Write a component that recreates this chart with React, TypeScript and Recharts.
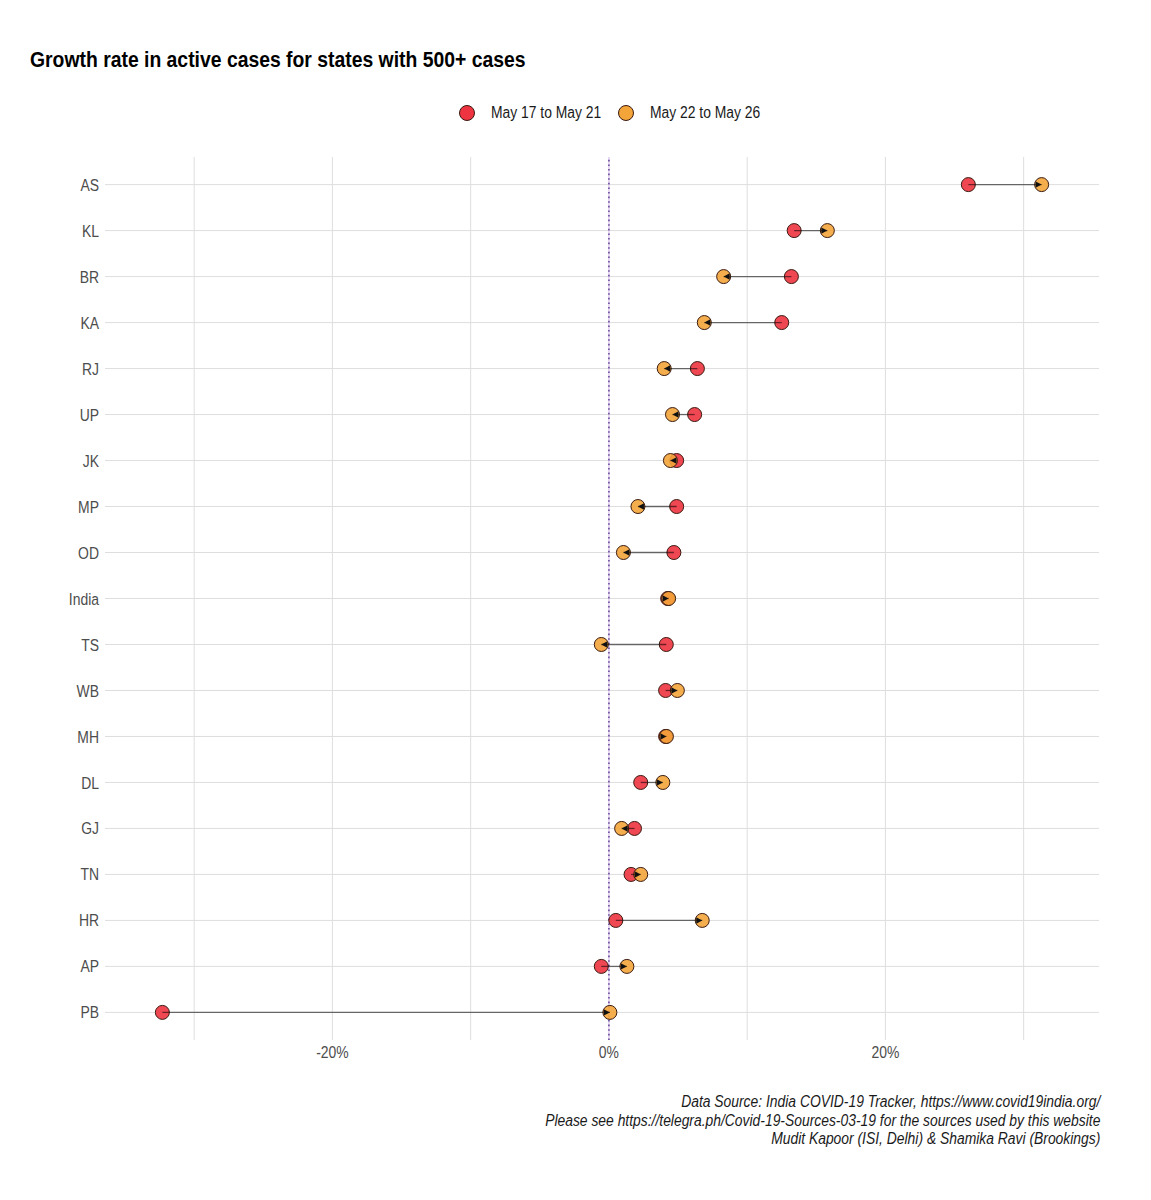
import React from "react";
import {
  CartesianGrid,
  ReferenceLine,
  Scatter,
  ScatterChart,
  XAxis,
  YAxis,
} from "recharts";

const states = [
  "AS", "KL", "BR", "KA", "RJ", "UP", "JK", "MP", "OD", "India",
  "TS", "WB", "MH", "DL", "GJ", "TN", "HR", "AP", "PB",
];

// growth rate in active cases, %
const may17to21 = [
  26.0, 13.4, 13.2, 12.5, 6.4, 6.2, 4.9, 4.9, 4.7, 4.25,
  4.15, 4.1, 4.1, 2.3, 1.85, 1.6, 0.5, -0.55, -32.3,
];
const may22to26 = [
  31.3, 15.8, 8.3, 6.9, 4.0, 4.6, 4.45, 2.1, 1.05, 4.32,
  -0.55, 4.95, 4.16, 3.9, 0.92, 2.3, 6.75, 1.3, 0.07,
];

const seriesNames = ["May 17 to May 21", "May 22 to May 26"];
const seriesColors = ["#EE3440", "#F4A53A"];

const xGrid = [-30, -20, -10, 0, 10, 20, 30];
const xTicks = [-20, 0, 20];

const captionLines = [
  "Data Source: India COVID-19 Tracker, https://www.covid19india.org/",
  "Please see https://telegra.ph/Covid-19-Sources-03-19 for the sources used by this website",
  "Mudit Kapoor (ISI, Delhi) & Shamika Ravi (Brookings)",
];

// no Arial Narrow here, so squeeze Liberation Sans instead
const FONT = "'Liberation Sans', Arial, sans-serif";
const NARROW = 0.82;

const firstPts = states.map((s, i) => ({ x: may17to21[i], y: i + 1 }));
const secondPts = states.map((s, i) => ({ x: may22to26[i], y: i + 1 }));
const arrowPts = states.map((s, i) => ({
  x: may22to26[i],
  y: i + 1,
  dir: may22to26[i] >= may17to21[i] ? 1 : -1,
}));

const dot = (color: string) => (props: any) => (
  <circle
    cx={props.cx}
    cy={props.cy}
    r={7}
    fill={color}
    fillOpacity={0.9}
    stroke="#3a1a10"
    strokeWidth={1}
  />
);

const arrowHead = (props: any) => {
  const { cx, cy, payload } = props;
  const d = payload.dir;
  return (
    <polygon
      points={`${cx},${cy} ${cx - d * 6},${cy - 3.2} ${cx - d * 6},${cy + 3.2}`}
      fill="#111"
    />
  );
};

const XTick = (props: any) => {
  const { x, y, payload } = props;
  return (
    <g transform={`translate(${x},${y})`}>
      <text
        transform={`scale(${NARROW},1)`}
        textAnchor="middle"
        dy="0.71em"
        fill="#4d4d4d"
        fontSize={17}
        fontFamily={FONT}
      >
        {`${payload.value}%`}
      </text>
    </g>
  );
};

const YTick = (props: any) => {
  const { x, y, payload } = props;
  return (
    <g transform={`translate(${x},${y})`}>
      <text
        transform={`scale(${NARROW},1)`}
        textAnchor="end"
        dy="0.355em"
        fill="#4d4d4d"
        fontSize={17}
        fontFamily={FONT}
      >
        {states[payload.value - 1]}
      </text>
    </g>
  );
};

const squeeze = (origin: string, k: number): React.CSSProperties => ({
  transform: `scaleX(${k})`,
  transformOrigin: origin,
  whiteSpace: "nowrap",
});

export default function App() {
  return (
    <div
      style={{
        position: "absolute",
        left: 0,
        top: 0,
        width: 1151,
        height: 1200,
        background: "#fff",
        fontFamily: FONT,
      }}
    >
      <div
        style={{
          position: "absolute",
          left: 30,
          top: 46,
          fontSize: 22,
          lineHeight: "27px",
          fontWeight: 700,
          color: "#000",
          ...squeeze("left", 0.88),
        }}
      >
        Growth rate in active cases for states with 500+ cases
      </div>

      <div
        style={{
          position: "absolute",
          left: 459,
          top: 103,
          display: "flex",
          alignItems: "center",
          fontSize: 16,
          lineHeight: "20px",
          color: "#1a1a1a",
        }}
      >
        {seriesNames.map((name, i) => (
          <span
            key={name}
            style={{ display: "inline-flex", alignItems: "center", width: i === 0 ? 159 : 150 }}
          >
            <span
              style={{
                width: 14,
                height: 14,
                borderRadius: "50%",
                background: seriesColors[i],
                border: "1px solid #3a1a10",
                marginRight: 16,
                flex: "none",
              }}
            />
            <span style={squeeze("left", 0.867)}>{name}</span>
          </span>
        ))}
      </div>

      <ScatterChart
        width={1151}
        height={1200}
        margin={{ top: 157, right: 52, bottom: 130, left: 30 }}
      >
        <CartesianGrid
          stroke="#dedede"
          strokeWidth={1}
          verticalValues={xGrid}
          horizontalValues={states.map((s, i) => i + 1)}
        />
        <XAxis
          type="number"
          dataKey="x"
          domain={[-36.45, 35.45]}
          ticks={xTicks}
          allowDataOverflow
          height={30}
          axisLine={false}
          tickLine={false}
          tickSize={3}
          tickMargin={3}
          tick={<XTick />}
        />
        <YAxis
          type="number"
          dataKey="y"
          domain={[0.4, 19.6]}
          ticks={states.map((s, i) => i + 1)}
          reversed
          allowDataOverflow
          width={75}
          axisLine={false}
          tickLine={false}
          tickSize={3}
          tickMargin={3}
          tick={<YTick />}
        />
        <ReferenceLine x={0} stroke="#e4d4f4" strokeWidth={1.6} />
        <ReferenceLine
          x={0}
          stroke="#6a4a9a"
          strokeWidth={1.6}
          strokeDasharray="1.6 3"
        />
        <Scatter
          name={seriesNames[0]}
          data={firstPts}
          shape={dot(seriesColors[0])}
          isAnimationActive={false}
        />
        <Scatter
          name={seriesNames[1]}
          data={secondPts}
          shape={dot(seriesColors[1])}
          isAnimationActive={false}
        />
        {states.map((s, i) => (
          <Scatter
            key={s}
            data={[firstPts[i], secondPts[i]]}
            line={{ stroke: "#000", strokeOpacity: 0.55, strokeWidth: 1.3 }}
            shape={() => <g />}
            isAnimationActive={false}
          />
        ))}
        <Scatter data={arrowPts} shape={arrowHead} isAnimationActive={false} />
      </ScatterChart>

      <div
        style={{
          position: "absolute",
          right: 51,
          top: 1093,
          textAlign: "right",
          fontStyle: "italic",
          fontSize: 16,
          lineHeight: "18.5px",
          color: "#1a1a1a",
          ...squeeze("right", 0.867),
        }}
      >
        {captionLines.map((l) => (
          <div key={l}>{l}</div>
        ))}
      </div>
    </div>
  );
}
